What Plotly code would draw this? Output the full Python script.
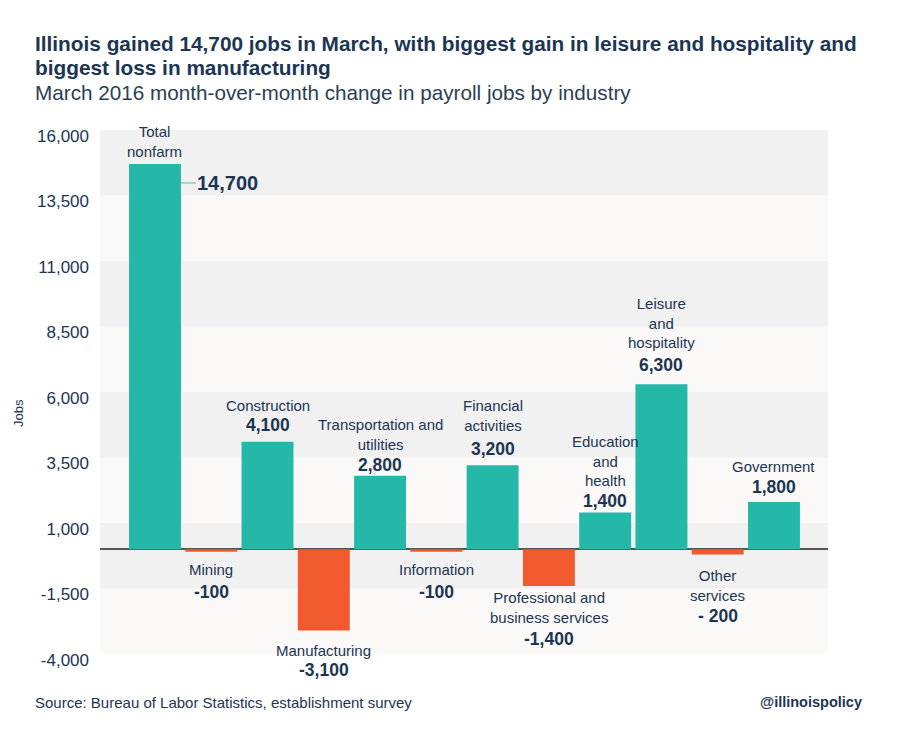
import plotly.graph_objects as go

categories = ["Total nonfarm", "Mining", "Construction", "Manufacturing",
              "Transportation and utilities", "Information", "Financial activities",
              "Professional and business services", "Education and health",
              "Leisure and hospitality", "Other services", "Government"]
values = [14700, -100, 4100, -3100, 2800, -100, 3200, -1400, 1400, 6300, -200, 1800]
value_labels = ["14,700", "-100", "4,100", "-3,100", "2,800", "-100", "3,200",
                "-1,400", "1,400", "6,300", "- 200", "1,800"]
name_labels = ["Total<br>nonfarm", "Mining", "Construction", "Manufacturing",
               "Transportation and<br>utilities", "Information", "Financial<br>activities",
               "Professional and<br>business services", "Education<br>and<br>health",
               "Leisure<br>and<br>hospitality", "Other<br>services", "Government"]
y_ticks = [-4000, -1500, 1000, 3500, 6000, 8500, 11000, 13500, 16000]
y_tick_labels = ["-4,000", "-1,500", "1,000", "3,500", "6,000", "8,500",
                 "11,000", "13,500", "16,000"]

# label offsets in pixels from bar end (name, value)
name_shift = [23, -18, 36, -20, 41, -18, 50, -22, 52, 61, -31, 36]
value_shift = [None, -40, 17, -40, 11, -40, 16, -53, 12, 19, -62, 15]

NAVY = "#1c3553"
TEAL = "#25b8a9"
ORANGE = "#f15a2f"
FONT = "Liberation Sans"

colors = [TEAL if v >= 0 else ORANGE for v in values]

fig = go.Figure()
fig.add_trace(go.Bar(
    x=categories, y=values, marker=dict(color=colors, line=dict(width=0)),
    hoverinfo="x+y", showlegend=False,
))

# alternating bands
shapes = []
for i in range(len(y_ticks) - 1):
    if (len(y_ticks) - 2 - i) % 2 == 0:
        shapes.append(dict(type="rect", xref="paper", yref="y", x0=0, x1=1,
                           y0=y_ticks[i], y1=y_ticks[i + 1],
                           fillcolor="#f1f1f1", line=dict(width=0), layer="below"))

annotations = []
for i, (c, v) in enumerate(zip(categories, values)):
    annotations.append(dict(x=c, y=v, xref="x", yref="y", text=name_labels[i],
                            showarrow=False, yanchor="middle", yshift=name_shift[i],
                            font=dict(family=FONT, size=15, color=NAVY)))
    if value_shift[i] is not None:
        annotations.append(dict(x=c, y=v, xref="x", yref="y", text="<b>%s</b>" % value_labels[i],
                                showarrow=False, yanchor="middle", yshift=value_shift[i],
                                font=dict(family=FONT, size=17.5, color=NAVY)))

# total nonfarm value with leader line
annotations.append(dict(x=0.462, y=values[0], xref="x", yref="y",
                        text="<b>%s</b>" % value_labels[0], showarrow=True,
                        arrowhead=0, arrowwidth=1.5, arrowcolor="#7fd3c8",
                        ax=47, ay=0, yshift=-19, standoff=0,
                        font=dict(family=FONT, size=20, color=NAVY)))

# page body offset (browser default margin)
OFF = 8
L, R, T, B = 100 - OFF, 72 + OFF, 130 - OFF, 77 + OFF
W, H = 900, 731
pw, ph = W - L - R, H - T - B


def px(xp):
    return (xp - OFF - L) / pw


def py(yp):
    return (H - B - (yp - OFF)) / ph


annotations += [
    dict(x=px(33), y=py(43), xref="paper", yref="paper", xanchor="left", yanchor="middle",
         text="<b>Illinois gained 14,700 jobs in March, with biggest gain in leisure and hospitality and</b>",
         showarrow=False, font=dict(family=FONT, size=20.8, color=NAVY)),
    dict(x=px(33), y=py(67), xref="paper", yref="paper", xanchor="left", yanchor="middle",
         text="<b>biggest loss in manufacturing</b>",
         showarrow=False, font=dict(family=FONT, size=20.8, color=NAVY)),
    dict(x=px(33), y=py(93), xref="paper", yref="paper", xanchor="left", yanchor="middle",
         text="March 2016 month-over-month change in payroll jobs by industry",
         showarrow=False, font=dict(family=FONT, size=20.7, color="#2b3e55")),
    dict(x=px(18), y=py(413), xref="paper", yref="paper", xanchor="center", yanchor="middle",
         text="Jobs", textangle=-90,
         showarrow=False, font=dict(family=FONT, size=13, color=NAVY)),
    dict(x=px(33), y=py(702), xref="paper", yref="paper", xanchor="left", yanchor="middle",
         text="Source: Bureau of Labor Statistics, establishment survey",
         showarrow=False, font=dict(family=FONT, size=15, color=NAVY)),
    dict(x=px(864), y=py(702), xref="paper", yref="paper", xanchor="right", yanchor="middle",
         text="<b>@illinoispolicy</b>",
         showarrow=False, font=dict(family=FONT, size=14.5, color=NAVY)),
]

fig.update_layout(
    width=W, height=H,
    margin=dict(l=L, r=R, t=T, b=B),
    paper_bgcolor="white", plot_bgcolor="#faf9f7",
    bargap=0.077,
    shapes=shapes, annotations=annotations,
    font=dict(family=FONT, color=NAVY),
    xaxis=dict(range=[-0.977, 11.96], showticklabels=False, showgrid=False,
               zeroline=False, showline=False, ticks=""),
    yaxis=dict(range=[-4000, 16000], tickvals=y_ticks, ticktext=y_tick_labels,
               showgrid=False, zeroline=True, zerolinecolor="#555555", zerolinewidth=2,
               showline=False, ticks="", ticklabelstandoff=10, ticklabelshift=6,
               tickfont=dict(family=FONT, size=17, color=NAVY)),
)

fig.write_html("out.html")
